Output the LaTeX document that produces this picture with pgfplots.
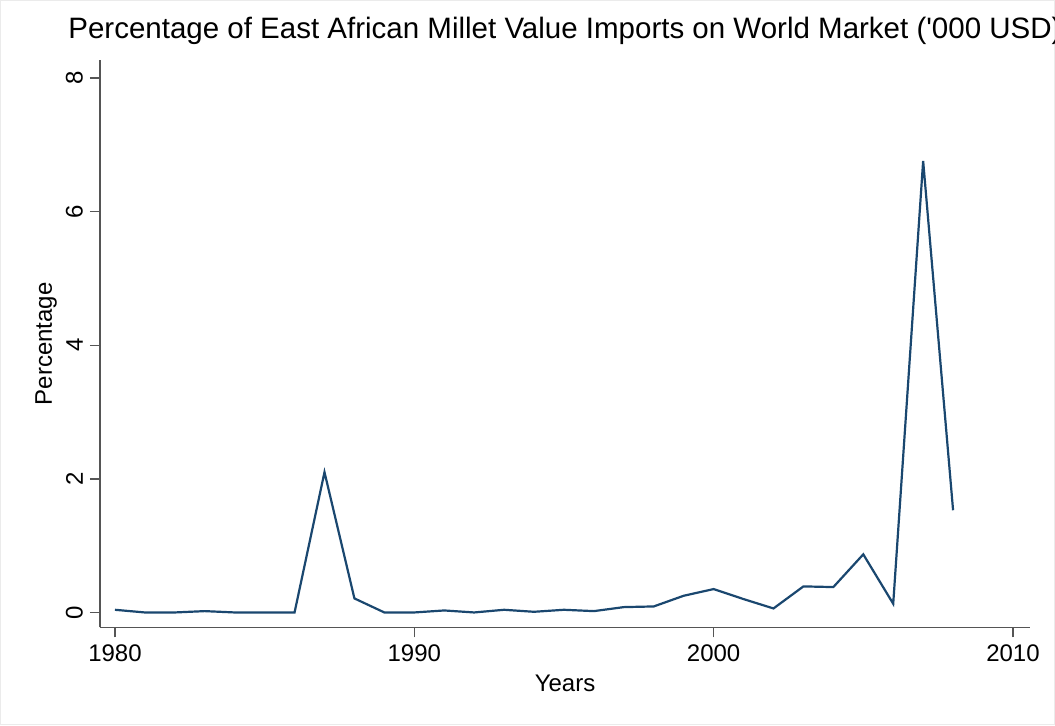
\documentclass[border=0pt]{standalone}
\usepackage{fontspec}
\setmainfont{Liberation Sans}
\usepackage{pgfplots}
\pgfplotsset{compat=1.18}
\definecolor{statanavy}{HTML}{1A476F}
\definecolor{axisgray}{HTML}{555555}

\begin{document}
\begin{tikzpicture}
\useasboundingbox (-50pt,-49pt) rectangle (477.5pt,313.75pt);
\draw[black!8, line width=0.5pt] (-49.75pt,-48.75pt) rectangle (477.25pt,313.5pt);
\begin{axis}[
    at={(0,0)}, anchor=south west,
    scale only axis,
    width=465pt, height=283.75pt,
    xmin=1979.5, xmax=2010.57,
    ymin=-0.225, ymax=8.27,
    axis x line=bottom, axis y line=left,
    axis line style={-, axisgray, line width=0.7pt},
    xtick={1980,1990,2000,2010},
    ytick={0,2,4,6,8},
    tick align=outside,
    major tick length=5pt,
    tick style={axisgray, line width=0.7pt},
    font=\fontsize{12}{14}\selectfont,
    /pgf/number format/assume math mode=true,
    x tick label style={/pgf/number format/1000 sep={}},
    yticklabel style={rotate=90, anchor=south},
    title={Percentage of East African Millet Value Imports on World Market (\textquotesingle000 USD)},
    title style={at={(axis description cs:0.5,1)}, anchor=base, yshift=4.5pt, font=\fontsize{14.75}{17}\selectfont},
    xlabel={Years},
    xlabel style={at={(axis description cs:0.5,0)}, anchor=center, yshift=-28pt},
    ylabel={Percentage},
    ylabel style={at={(axis description cs:-0.058,0.5)}, anchor=center, rotate=0},
  ]
  \addplot[statanavy, line width=1.1pt] coordinates {
    (1980,0.04) (1981,0.00) (1982,0.00) (1983,0.02) (1984,0.00)
    (1985,0.00) (1986,0.00) (1987,2.10) (1988,0.21) (1989,0.00)
    (1990,0.00) (1991,0.03) (1992,0.00) (1993,0.04) (1994,0.01)
    (1995,0.04) (1996,0.02) (1997,0.08) (1998,0.09) (1999,0.25)
    (2000,0.35) (2001,0.20) (2002,0.06) (2003,0.39) (2004,0.38)
    (2005,0.87) (2006,0.13) (2007,6.76) (2008,1.53)
  };
\end{axis}
\end{tikzpicture}
\end{document}
